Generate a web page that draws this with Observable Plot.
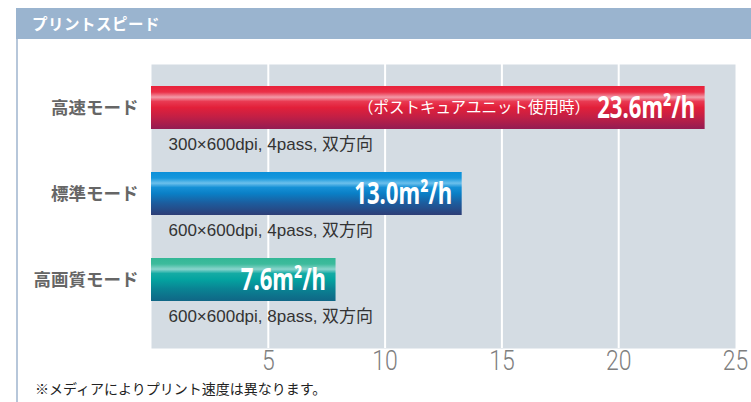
<!DOCTYPE html>
<html><head><meta charset="utf-8">
<script src="https://cdn.jsdelivr.net/npm/d3@7"></script>
<script src="https://cdn.jsdelivr.net/npm/@observablehq/plot@0.6"></script>
<style>
html,body{margin:0;padding:0;background:#fff;}
#wrap{position:relative;width:751px;height:402px;overflow:hidden;font-family:"Noto Sans CJK JP",sans-serif;}
#hdr{position:absolute;left:16px;top:8px;width:735px;height:31px;background:#9ab4cf;color:#fff;font-weight:bold;font-size:15.5px;line-height:31px;padding-left:16px;box-sizing:border-box;letter-spacing:0.5px;}
#vline{position:absolute;left:16px;top:39px;width:2px;height:363px;background:#b7c7da;}
#chart{position:absolute;left:0;top:42px;}
#foot{position:absolute;left:35px;top:378px;font-size:14px;color:#222;}
</style></head>
<body><div id="wrap"><div id="hdr">プリントスピード</div><div id="vline"></div><div id="chart"></div><div id="foot">※メディアによりプリント速度は異なります。</div></div>
<script>
const modes = ["高速モード", "標準モード", "高画質モード"];
const speeds = [23.7, 13.3, 7.9];           // bar lengths as drawn
const speedLabels = ["23.6", "13.0", "7.6"]; // printed values
const specs = ["300×600dpi, 4pass, 双方向", "600×600dpi, 4pass, 双方向", "600×600dpi, 8pass, 双方向"];
const notes = ["（ポストキュアユニット使用時）", "", ""];
const gradIds = ["gRed", "gBlue", "gTeal"];
const xTicks = [5, 10, 15, 20, 25];
const gridTicks = [5, 10, 15, 20];

const data = modes.map((m, i) => ({mode: m, value: speeds[i], label: speedLabels[i] + "m²/h", spec: specs[i], note: notes[i], grad: `url(#${gradIds[i]})`}));

const chart = Plot.plot({
  width: 751, height: 334,
  marginLeft: 151, marginRight: 16, marginTop: 22, marginBottom: 28,
  style: {fontFamily: "'Noto Sans CJK JP',sans-serif", background: "transparent", overflow: "visible"},
  x: {domain: [0, 25]},
  y: {domain: modes, range: [37, 295], paddingInner: 0, paddingOuter: 0},
  color: {type: "identity"},
  marks: [
    Plot.frame({fill: "#d4dce3", stroke: "none"}),
    Plot.gridX(gridTicks, {stroke: "white", strokeOpacity: 1, strokeWidth: 2}),
    Plot.barX(data, {x: "value", y: "mode", fill: "grad", insetTop: 7, insetBottom: 36}),
    Plot.text(data, {x: "value", y: "mode", text: "label", textAnchor: "end", dx: -10, dy: -14.5, fill: "white", fontSize: 30, fontWeight: "bold", fontFamily: "'Noto Sans',sans-serif", className: "vlab"}),
    Plot.text(data.filter(d => d.note), {x: "value", y: "mode", text: "note", textAnchor: "end", dx: -115, dy: -14.5, fill: "white", fontSize: 15.5}),
    Plot.text(data, {y: "mode", text: "spec", frameAnchor: "left", textAnchor: "start", dx: 17, dy: 22, fill: "#333", fontSize: 17, fontFamily: "'Liberation Sans','Noto Sans CJK JP',sans-serif"}),
    Plot.axisX(xTicks, {tickSize: 0, tickPadding: 2, fontSize: 28, fill: "#7f7f7f", fontWeight: 300, fontFamily: "Roboto,sans-serif", label: null, className: "xtick"}),
    Plot.axisY({tickSize: 0, tickPadding: 13, dy: -14.5, fontSize: 17.5, fontWeight: "bold", fill: "#666", label: null})
  ]
});

// condense the value labels and tick labels (narrow typeface look)
d3.select(chart).selectAll(".vlab text").attr("transform", function() { return (this.getAttribute("transform") || "") + " scale(0.74,1)"; });
d3.select(chart).selectAll(".xtick text").attr("transform", function() { return (this.getAttribute("transform") || "") + " scale(0.82,1)"; });

const defs = d3.select(chart).insert("defs", ":first-child");
function grad(id, stops) {
  const g = defs.append("linearGradient").attr("id", id).attr("x1", 0).attr("y1", 0).attr("x2", 0).attr("y2", 1);
  stops.forEach(([o, c]) => g.append("stop").attr("offset", o).attr("stop-color", c));
}
grad("gRed", [[0, "#e8213a"], [0.14, "#ea2f47"], [0.26, "#f39aa8"], [0.36, "#e93a52"], [0.5, "#e2203a"], [0.72, "#c21f45"], [1, "#931c53"]]);
grad("gBlue", [[0, "#0b90d9"], [0.14, "#1597dc"], [0.26, "#6cc0ec"], [0.36, "#1590d6"], [0.5, "#0a7fc6"], [0.72, "#1c5d9e"], [1, "#2d3d76"]]);
grad("gTeal", [[0, "#33b796"], [0.14, "#3dbb9c"], [0.26, "#8ad4cc"], [0.36, "#14aba4"], [0.5, "#04a3a0"], [0.72, "#0a8393"], [1, "#106686"]]);

document.getElementById("chart").appendChild(chart);
</script></body></html>
